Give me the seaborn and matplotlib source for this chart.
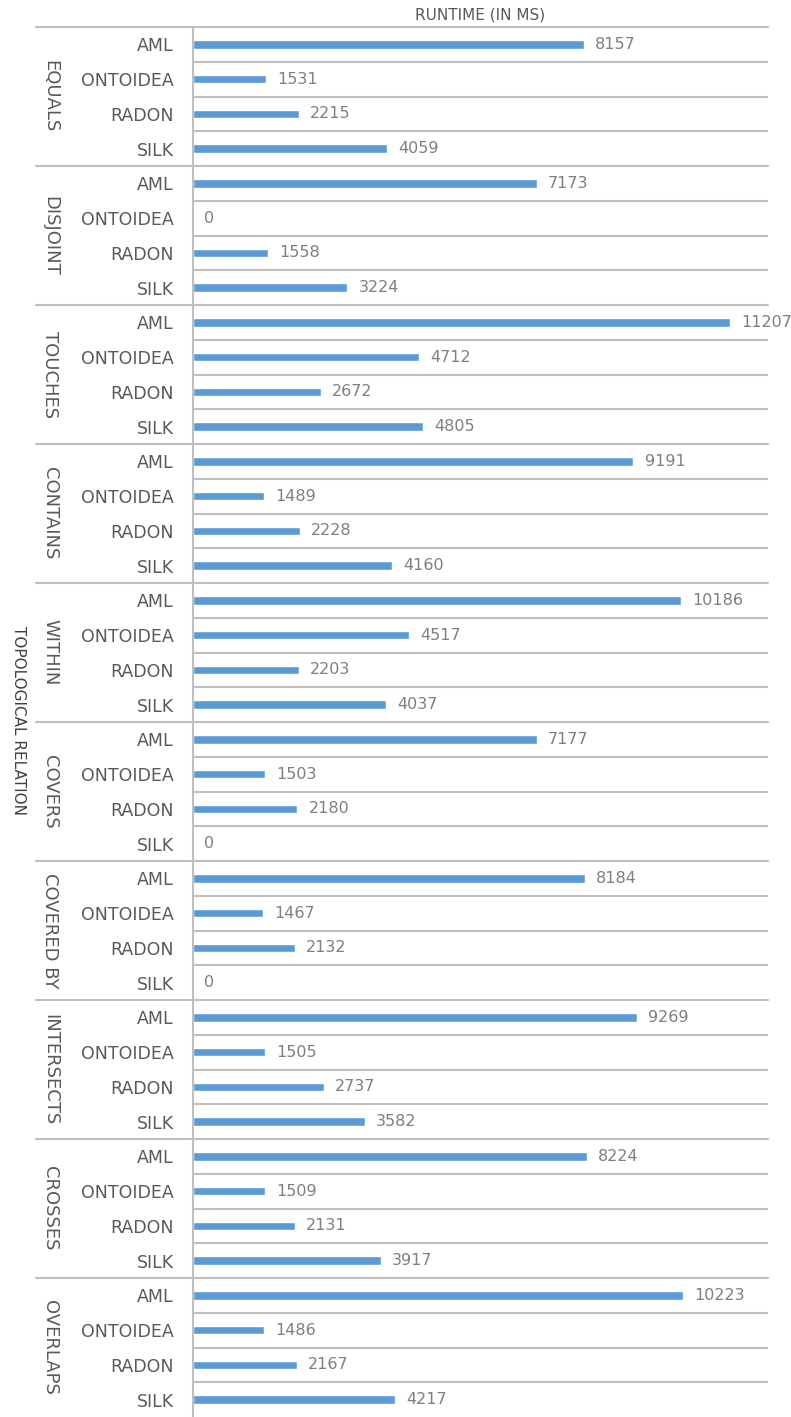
import matplotlib
matplotlib.use("Agg")
import matplotlib.pyplot as plt
import pandas as pd
import seaborn as sns
from matplotlib.lines import Line2D

relations = ["EQUALS", "DISJOINT", "TOUCHES", "CONTAINS", "WITHIN",
             "COVERS", "COVERED BY", "INTERSECTS", "CROSSES", "OVERLAPS"]
methods = ["AML", "ONTOIDEA", "RADON", "SILK"]

aml = [8157, 7173, 11207, 9191, 10186, 7177, 8184, 9269, 8224, 10223]
ontoidea = [1531, 0, 4712, 1489, 4517, 1503, 1467, 1505, 1509, 1486]
radon = [2215, 1558, 2672, 2228, 2203, 2180, 2132, 2737, 2131, 2167]
silk = [4059, 3224, 4805, 4160, 4037, 0, 0, 3582, 3917, 4217]

BAR = "#5B9BD5"
GRID = "#BFBFBF"
TEXT = "#595959"

# long table, one row per (relation, method)
rows = []
for i, rel in enumerate(relations):
    for m, vals in zip(methods, [aml, ontoidea, radon, silk]):
        rows.append({"key": f"{rel}|{m}", "relation": rel, "method": m, "runtime": vals[i]})
df = pd.DataFrame(rows)

sns.set_theme(style="white")
plt.rcParams["font.family"] = ["DejaVu Sans"]

W, H = 791, 1417
fig = plt.figure(figsize=(W / 100, H / 100), dpi=100)
ax_left, ax_right, ax_top = 193, 768, 27
ax = fig.add_axes([ax_left / W, 0, (ax_right - ax_left) / W, 1 - ax_top / H])

sns.barplot(data=df, y="key", x="runtime", orient="h", color=BAR,
            width=0.24, saturation=1, ax=ax)
ax.set_xlim(0, 12000)
ax.set_yticks(range(len(df)))
ax.set_yticklabels(df["method"], color=TEXT, fontsize=12.5)
ax.tick_params(axis="y", length=0, pad=14)
ax.set_xticks([])
ax.set_xlabel("")
ax.set_ylabel("")
for s in ["top", "right", "bottom"]:
    ax.spines[s].set_visible(False)
ax.spines["left"].set_color(GRID)
ax.spines["left"].set_linewidth(1.5)

ax.bar_label(ax.containers[0], labels=[str(v) for v in df["runtime"]],
             padding=8, color="#7F7F7F", fontsize=11.5)

# separators
n = len(df)
ext = (36 - ax_left) / (ax_right - ax_left)
for k in range(n):
    y = k - 0.5
    if k % len(methods) == 0:
        ax.add_line(Line2D([ext, 1], [y, y], transform=ax.get_yaxis_transform(),
                           color=GRID, lw=1.5, clip_on=False))
    else:
        ax.axhline(y, color=GRID, lw=1.5)

# group labels
row_h = (H - ax_top) / n
for i, rel in enumerate(relations):
    yc = ax_top + row_h * (i * 4 + 2)
    fig.text(50 / W, 1 - yc / H, rel, rotation=270, ha="center", va="center",
             color=TEXT, fontsize=13)

fig.text(18 / W, 1 - 720 / H, "TOPOLOGICAL RELATION", rotation=270, ha="center",
         va="center", color="#404040", fontsize=11)
fig.text((ax_left + ax_right) / 2 / W, 1 - 15 / H, "RUNTIME (IN MS)", ha="center",
         va="center", color=TEXT, fontsize=11)

fig.savefig("out.png", dpi=100)
